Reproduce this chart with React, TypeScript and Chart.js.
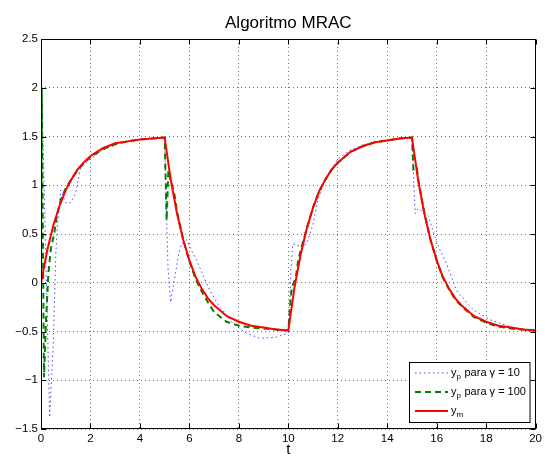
import React, { useEffect, useRef } from "react";
import { Chart, registerables } from "chart.js";

Chart.register(...registerables);

const titleText = "Algoritmo MRAC";
const xAxisLabel = "t";
const xTickValues = [0, 2, 4, 6, 8, 10, 12, 14, 16, 18, 20];
const yTickValues = [-1.5, -1, -0.5, 0, 0.5, 1, 1.5, 2, 2.5];

// y_m (reference model)
const tModel = [
  0, 0.25, 0.5, 0.75, 1, 1.25, 1.5, 1.75, 2, 2.5, 3, 3.5, 4, 4.5, 5,
  5.25, 5.5, 5.75, 6, 6.25, 6.5, 6.75, 7, 7.5, 8, 8.5, 9, 9.5, 10,
  10.25, 10.5, 10.75, 11, 11.25, 11.5, 11.75, 12, 12.5, 13, 13.5, 14, 14.5, 15,
  15.25, 15.5, 15.75, 16, 16.25, 16.5, 16.75, 17, 17.5, 18, 18.5, 19, 19.5, 20,
];
const yModel = [
  0, 0.33, 0.59, 0.79, 0.95, 1.07, 1.17, 1.24, 1.3, 1.38, 1.43, 1.45, 1.47, 1.48, 1.49,
  1.05, 0.71, 0.44, 0.23, 0.06, -0.06, -0.16, -0.23, -0.34, -0.4, -0.44, -0.46, -0.48, -0.49,
  -0.05, 0.29, 0.56, 0.77, 0.94, 1.06, 1.16, 1.23, 1.34, 1.4, 1.44, 1.46, 1.48, 1.49,
  1.05, 0.71, 0.44, 0.23, 0.06, -0.06, -0.16, -0.23, -0.34, -0.4, -0.44, -0.46, -0.48, -0.49,
];

// y_p for gamma = 100
const tG100 = [
  0, 0.03, 0.12, 0.2, 0.3, 0.4, 0.53, 0.65, 0.8, 1, 1.25, 1.5, 1.75, 2, 2.5, 3, 3.5, 4, 4.5, 5,
  5.08, 5.15, 5.25, 5.4, 5.5, 5.75, 6, 6.25, 6.5, 6.75, 7, 7.5, 8, 8.5, 9, 9.5, 10,
  10.07, 10.14, 10.3, 10.4, 10.54, 10.75, 11, 11.25, 11.5, 11.75, 12, 12.5, 13, 13.5, 14, 14.5, 15,
  15.06, 15.2, 15.26, 15.5, 15.75, 16, 16.25, 16.5, 16.75, 17, 17.5, 18, 18.5, 19, 19.5, 20,
];
const yG100 = [
  0, 2.0, -0.97, -0.4, 0.1, 0.35, 0.5, 0.7, 0.85, 0.97, 1.07, 1.16, 1.23, 1.29, 1.37, 1.42, 1.45, 1.47, 1.48, 1.49,
  0.64, 1.15, 1.05, 0.9, 0.73, 0.44, 0.22, 0.04, -0.09, -0.2, -0.3, -0.4, -0.44, -0.46, -0.47, -0.48, -0.49,
  -0.25, -0.05, 0.05, 0.23, 0.37, 0.56, 0.77, 0.94, 1.06, 1.16, 1.23, 1.34, 1.4, 1.44, 1.46, 1.48, 1.49,
  1.15, 1.17, 1.05, 0.72, 0.44, 0.23, 0.05, -0.07, -0.17, -0.24, -0.35, -0.41, -0.45, -0.47, -0.48, -0.49,
];

// y_p for gamma = 10
const tG10 = [
  0, 0.03, 0.35, 0.5, 0.6, 0.66, 0.8, 1.0, 1.2, 1.4, 1.5, 1.6, 2, 2.5, 3, 3.5, 4, 4.5, 5,
  5.08, 5.14, 5.24, 5.35, 5.48, 5.57, 5.68, 5.89, 6.09, 6.29, 6.55, 6.83, 7.23, 7.77, 8.32, 8.85, 9.5, 9.94, 10,
  10.1, 10.18, 10.4, 10.6, 10.8, 11, 11.2, 11.4, 11.7, 12, 12.5, 13, 13.5, 14, 14.5, 15,
  15.13, 15.25, 15.5, 15.67, 15.8, 16.07, 16.34, 16.6, 16.8, 17.2, 17.5, 18.16, 18.84, 19.5, 20,
];
const yG10 = [
  0, 2.0, -1.38, -0.6, 0.3, 0.57, 0.95, 0.82, 0.82, 0.92, 1.05, 1.18, 1.27, 1.36, 1.42, 1.45, 1.47, 1.48, 1.49,
  0.64, 0.13, -0.2, -0.04, 0.16, 0.3, 0.4, 0.44, 0.33, 0.23, 0.08, -0.08, -0.25, -0.42, -0.52, -0.57, -0.56, -0.52, -0.52,
  0.1, 0.4, 0.38, 0.36, 0.44, 0.6, 0.85, 1.0, 1.15, 1.27, 1.36, 1.41, 1.44, 1.46, 1.48, 1.49,
  0.71, 0.76, 0.72, 0.68, 0.57, 0.37, 0.23, 0.06, -0.08, -0.2, -0.28, -0.38, -0.44, -0.49, -0.5,
];

const legendMain = ["y", "y", "y"];
const legendSub = ["p", "p", "m"];
const legendRest = [" para \u03b3 = 10", " para \u03b3 = 100", ""];

const FONT = '"Liberation Sans", Arial, Helvetica, sans-serif';

const toPoints = (xs: number[], ys: number[]) => xs.map((x, i) => ({ x, y: ys[i] }));

const decorPlugin = {
  id: "decor",
  afterDraw(chart: any) {
    const { ctx, chartArea: a, scales } = chart;
    const xs = scales.x;
    const ys = scales.y;
    ctx.save();
    ctx.setLineDash([]);
    ctx.strokeStyle = "#000";
    ctx.lineWidth = 1;
    const L = Math.round(a.left) + 0.5;
    const R = Math.round(a.right) - 0.5;
    const T = Math.round(a.top) + 0.5;
    const B = Math.round(a.bottom) - 0.5;
    ctx.strokeRect(L, T, R - L, B - T);
    const tl = 5;
    ctx.beginPath();
    xTickValues.forEach((v) => {
      const px = Math.round(xs.getPixelForValue(v)) + 0.5;
      ctx.moveTo(px, B);
      ctx.lineTo(px, B - tl);
      ctx.moveTo(px, T);
      ctx.lineTo(px, T + tl);
    });
    yTickValues.forEach((v) => {
      const py = Math.round(ys.getPixelForValue(v)) + 0.5;
      ctx.moveTo(L, py);
      ctx.lineTo(L + tl, py);
      ctx.moveTo(R, py);
      ctx.lineTo(R - tl, py);
    });
    ctx.stroke();

    // title and axis label
    ctx.fillStyle = "#000";
    ctx.textAlign = "center";
    ctx.textBaseline = "alphabetic";
    ctx.font = `17px ${FONT}`;
    ctx.fillText(titleText, (a.left + a.right) / 2, 28);
    ctx.font = `15px ${FONT}`;
    ctx.fillText(xAxisLabel, (a.left + a.right) / 2, 454);

    // legend
    const bx = 409.5, by = 362.5, bw = 120.5, bh = 60;
    ctx.fillStyle = "#fff";
    ctx.fillRect(bx, by, bw, bh);
    ctx.strokeStyle = "#000";
    ctx.strokeRect(bx, by, bw, bh);
    const rowsY = [373, 392, 411];
    [0, 1, 2].forEach((di, i) => {
      const ds = chart.data.datasets[di];
      const yy = rowsY[i];
      ctx.save();
      ctx.strokeStyle = ds.borderColor;
      ctx.lineWidth = ds.borderWidth;
      ctx.setLineDash(ds.borderDash || []);
      ctx.beginPath();
      ctx.moveTo(415, yy);
      ctx.lineTo(448, yy);
      ctx.stroke();
      ctx.restore();
      ctx.fillStyle = "#000";
      ctx.textAlign = "left";
      ctx.textBaseline = "alphabetic";
      let x0 = 451;
      const base = yy + 3;
      ctx.font = `11px ${FONT}`;
      ctx.fillText(legendMain[i], x0, base);
      x0 += ctx.measureText(legendMain[i]).width;
      ctx.font = `8px ${FONT}`;
      ctx.fillText(legendSub[i], x0, base + 3);
      x0 += ctx.measureText(legendSub[i]).width + 0.5;
      ctx.font = `11px ${FONT}`;
      ctx.fillText(legendRest[i], x0, base);
    });
    ctx.restore();
  },
};

const fmt = (v: number) => {
  const s = String(Math.abs(v));
  return v < 0 ? "\u2212" + s : s;
};

export default function App() {
  const ref = useRef<HTMLCanvasElement | null>(null);
  useEffect(() => {
    if (!ref.current) return;
    const chart = new Chart(ref.current, {
      type: "line",
      data: {
        datasets: [
          {
            label: "y_p para γ = 10",
            data: toPoints(tG10, yG10),
            borderColor: "rgba(40,40,255,0.85)",
            borderWidth: 1,
            borderDash: [1.5, 3],
            pointRadius: 0,
            tension: 0,
            fill: false,
            order: 3,
          },
          {
            label: "y_p para γ = 100",
            data: toPoints(tG100, yG100),
            borderColor: "#008000",
            borderWidth: 2,
            borderDash: [6, 4],
            pointRadius: 0,
            tension: 0,
            fill: false,
            order: 2,
          },
          {
            label: "y_m",
            data: toPoints(tModel, yModel),
            borderColor: "#ff0000",
            borderWidth: 2,
            pointRadius: 0,
            tension: 0,
            fill: false,
            order: 1,
          },
        ],
      },
      options: {
        responsive: false,
        animation: false,
        layout: { padding: { top: 39, right: 9, left: 0, bottom: 0 } },
        plugins: {
          legend: { display: false },
          tooltip: { enabled: false },
          title: { display: false },
        },
        scales: {
          x: {
            type: "linear",
            min: 0,
            max: 20,
            afterFit: (s: any) => {
              s.height = 31;
            },
            afterBuildTicks: (s: any) => {
              s.ticks = xTickValues.map((v) => ({ value: v }));
            },
            ticks: {
              color: "#000",
              font: { family: FONT, size: 11.5 },
              padding: 3,
              maxRotation: 0,
              autoSkip: false,
              callback: (v: any) => fmt(Number(v)),
            },
            grid: { color: "rgba(0,0,0,0.55)", lineWidth: 1, drawTicks: false },
            border: { display: false, dash: [1, 3] },
          },
          y: {
            type: "linear",
            min: -1.5,
            max: 2.5,
            afterFit: (s: any) => {
              s.width = 41;
            },
            afterBuildTicks: (s: any) => {
              s.ticks = yTickValues.map((v) => ({ value: v }));
            },
            ticks: {
              color: "#000",
              font: { family: FONT, size: 11.5 },
              padding: 3,
              autoSkip: false,
              callback: (v: any) => fmt(Number(v)),
            },
            grid: { color: "rgba(0,0,0,0.55)", lineWidth: 1, drawTicks: false },
            border: { display: false, dash: [1, 3] },
          },
        },
      },
      plugins: [decorPlugin],
    });
    return () => chart.destroy();
  }, []);
  return (
    <div style={{ position: "absolute", left: 0, top: 0, width: 545, height: 460, background: "#fff" }}>
      <canvas ref={ref} width={545} height={460} style={{ display: "block" }} />
    </div>
  );
}
